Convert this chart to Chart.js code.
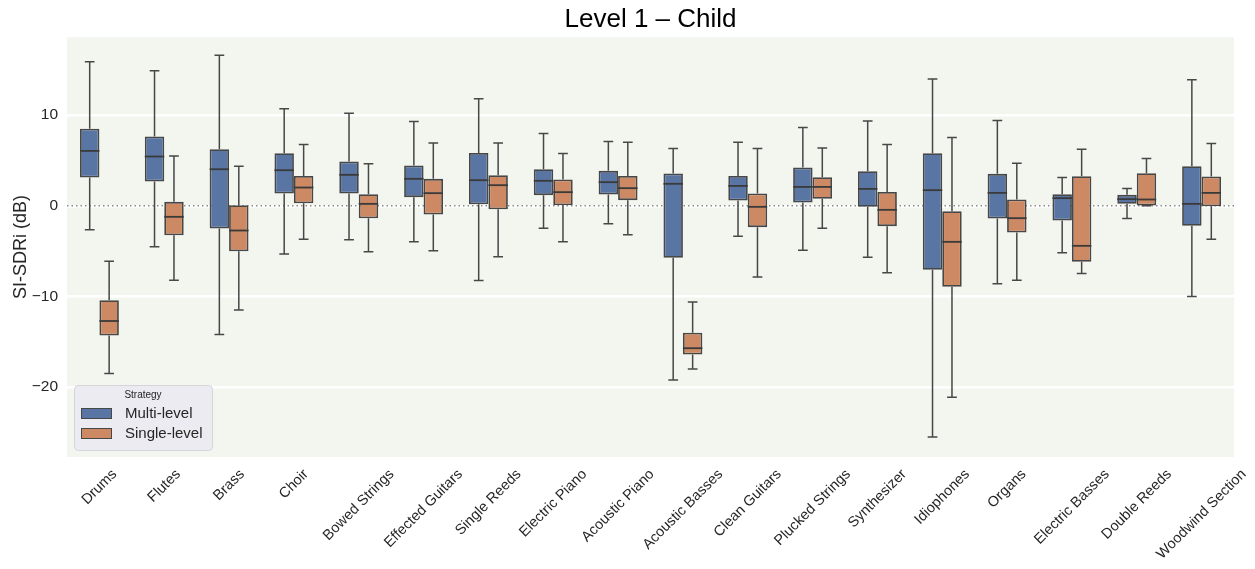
<!DOCTYPE html>
<html>
<head>
<meta charset="utf-8">
<title>Level 1 – Child</title>
<script src="https://cdn.jsdelivr.net/npm/chart.js@4.4.1/dist/chart.umd.min.js"></script>
<style>
    html, body { margin: 0; padding: 0; background: #ffffff; }
    #wrap { width: 1255px; height: 569px; }
</style>
</head>
<body>
<div id="wrap"><canvas id="boxChart" width="1255" height="569"></canvas></div>
<script>
/*
 * Data
 */
const categories = [
    "Drums", "Flutes", "Brass", "Choir", "Bowed Strings", "Effected Guitars",
    "Single Reeds", "Electric Piano", "Acoustic Piano", "Acoustic Basses",
    "Clean Guitars", "Plucked Strings", "Synthesizer", "Idiophones", "Organs",
    "Electric Basses", "Double Reeds", "Woodwind Section"
];

const seriesNames = ["Multi-level", "Single-level"];

// Multi-level: whisker low, Q1, median, Q3, whisker high
const multiLow  = [-2.65, -4.52, -14.2, -5.3, -3.75, -3.97, -8.23, -2.46, -1.98, -19.2, -3.34, -4.89, -5.66, -25.5, -8.6, -5.18, -1.4, -10.0];
const multiQ1   = [3.13, 2.68, -2.5, 1.36, 1.36, 0.96, 0.18, 1.18, 1.25, -5.73, 0.59, 0.37, -0.11, -7.06, -1.4, -1.62, 0.22, -2.2];
const multiMed  = [6.06, 5.44, 4.04, 3.93, 3.42, 2.98, 2.83, 2.76, 2.61, 2.43, 2.2, 2.09, 1.87, 1.73, 1.43, 0.85, 0.74, 0.22];
const multiQ3   = [8.5, 7.64, 6.25, 5.8, 4.89, 4.45, 5.84, 4.04, 3.86, 3.56, 3.3, 4.23, 3.82, 5.8, 3.53, 1.29, 1.21, 4.37];
const multiHigh = [15.9, 14.9, 16.6, 10.7, 10.2, 9.3, 11.8, 7.97, 7.09, 6.32, 7.02, 8.63, 9.37, 14.0, 9.41, 3.13, 1.91, 13.9];

// Single-level
const singleLow  = [-18.5, -8.2, -11.5, -3.68, -5.07, -4.96, -5.62, -3.97, -3.2, -18.0, -7.86, -2.46, -7.39, -21.1, -8.2, -7.46, 0.0, -3.68];
const singleQ1   = [-14.3, -3.24, -5.0, 0.29, -1.36, -0.96, -0.37, 0.07, 0.63, -16.4, -2.35, 0.77, -2.24, -8.93, -2.94, -6.17, 0.04, -0.04];
const singleMed  = [-12.7, -1.21, -2.72, 2.02, 0.22, 1.4, 2.28, 1.51, 1.95, -15.7, -0.11, 2.09, -0.44, -3.97, -1.36, -4.41, 0.7, 1.43];
const singleQ3   = [-10.4, 0.44, 0.07, 3.3, 1.29, 2.98, 3.38, 2.9, 3.3, -14.0, 1.36, 3.16, 1.54, -0.59, 0.7, 3.27, 3.6, 3.23];
const singleHigh = [-6.1, 5.5, 4.37, 6.76, 4.63, 6.94, 6.94, 5.77, 7.02, -10.6, 6.32, 6.39, 6.76, 7.53, 4.7, 6.25, 5.22, 6.87];

const yTicks = [-20, -10, 0, 10];

const boxColors = ["#5875a4", "#cc8963"];
const lineColor = "#474747";
const fontFamily = "'Liberation Sans', Arial, Helvetica, sans-serif";

// Boxes are floating bars from Q1 to Q3
function makeBoxes(q1, q3) {
    let boxes = [];
    for (let i = 0; i < q1.length; i++) {
        boxes.push([q1[i], q3[i]]);
    }
    return boxes;
}

const whiskerData = [
    {low: multiLow, med: multiMed, high: multiHigh, q1: multiQ1, q3: multiQ3},
    {low: singleLow, med: singleMed, high: singleHigh, q1: singleQ1, q3: singleQ3}
];

// Plot background, zero line and whiskers go under the boxes
const backgroundPlugin = {
    id: 'plotBackground',
    beforeDraw: (chart) => {
        const {ctx, chartArea} = chart;
        ctx.save();
        ctx.fillStyle = '#f3f6ef';
        ctx.fillRect(chartArea.left, chartArea.top, chartArea.right - chartArea.left, chartArea.bottom - chartArea.top);
        ctx.restore();
    },
    beforeDatasetsDraw: (chart) => {
        const {ctx, chartArea} = chart;
        const y = chart.scales.y;
        ctx.save();

        // dotted line at zero
        ctx.strokeStyle = '#8a8a8a';
        ctx.lineWidth = 1.5;
        ctx.setLineDash([1.5, 3]);
        ctx.beginPath();
        ctx.moveTo(chartArea.left, y.getPixelForValue(0));
        ctx.lineTo(chartArea.right, y.getPixelForValue(0));
        ctx.stroke();
        ctx.setLineDash([]);

        // whiskers and caps
        ctx.strokeStyle = lineColor;
        ctx.lineWidth = 1.5;
        for (let d = 0; d < whiskerData.length; d++) {
            const meta = chart.getDatasetMeta(d);
            const w = whiskerData[d];
            meta.data.forEach((bar, i) => {
                const capHalf = bar.width / 4;
                const pLow = y.getPixelForValue(w.low[i]);
                const pHigh = y.getPixelForValue(w.high[i]);
                ctx.beginPath();
                ctx.moveTo(bar.x, pLow);
                ctx.lineTo(bar.x, y.getPixelForValue(w.q1[i]));
                ctx.moveTo(bar.x, y.getPixelForValue(w.q3[i]));
                ctx.lineTo(bar.x, pHigh);
                ctx.moveTo(bar.x - capHalf, pLow);
                ctx.lineTo(bar.x + capHalf, pLow);
                ctx.moveTo(bar.x - capHalf, pHigh);
                ctx.lineTo(bar.x + capHalf, pHigh);
                ctx.stroke();
            });
        }
        ctx.restore();
    },
    afterDatasetsDraw: (chart) => {
        // medians on top of the boxes
        const {ctx} = chart;
        const y = chart.scales.y;
        ctx.save();
        ctx.strokeStyle = '#3a3a3a';
        ctx.lineWidth = 1.8;
        for (let d = 0; d < whiskerData.length; d++) {
            const meta = chart.getDatasetMeta(d);
            meta.data.forEach((bar, i) => {
                const p = y.getPixelForValue(whiskerData[d].med[i]);
                ctx.beginPath();
                ctx.moveTo(bar.x - bar.width / 2, p);
                ctx.lineTo(bar.x + bar.width / 2, p);
                ctx.stroke();
            });
        }
        ctx.restore();
    }
};

// Rotated category labels, centred on the tick like matplotlib
const xLabelPlugin = {
    id: 'xLabels',
    afterDraw: (chart) => {
        const {ctx, chartArea} = chart;
        const x = chart.scales.x;
        ctx.save();
        ctx.font = "14.5px " + fontFamily;
        ctx.fillStyle = '#262626';
        ctx.textAlign = 'center';
        ctx.textBaseline = 'middle';
        const h = 14;
        categories.forEach((label, i) => {
            const w = ctx.measureText(label).width;
            const half = (w + h) * Math.SQRT1_2 / 2;
            const cx = x.getPixelForValue(i);
            const cy = chartArea.bottom + 10 + half;
            ctx.save();
            ctx.translate(cx, cy);
            ctx.rotate(-Math.PI / 4);
            ctx.fillText(label, 0, 0);
            ctx.restore();
        });
        ctx.restore();
    }
};

// Legend box in the lower left corner of the plot
const legendPlugin = {
    id: 'strategyLegend',
    afterDraw: (chart) => {
        const {ctx, chartArea} = chart;
        const left = chartArea.left + 7;
        const top = chartArea.bottom - 72;
        ctx.save();
        ctx.fillStyle = 'rgba(234,234,240,0.95)';
        ctx.strokeStyle = '#d5d5d8';
        ctx.lineWidth = 1;
        ctx.beginPath();
        ctx.roundRect(left + 0.5, top + 0.5, 138, 65, 4);
        ctx.fill();
        ctx.stroke();

        ctx.fillStyle = '#262626';
        ctx.textBaseline = 'middle';
        ctx.textAlign = 'center';
        ctx.font = "10px " + fontFamily;
        ctx.fillText("Strategy", left + 69, top + 10);

        ctx.textAlign = 'left';
        ctx.font = "15px " + fontFamily;
        seriesNames.forEach((name, i) => {
            const py = top + 23 + i * 20;
            ctx.fillStyle = boxColors[i];
            ctx.fillRect(left + 7, py, 31, 11);
            ctx.strokeStyle = lineColor;
            ctx.lineWidth = 1;
            ctx.strokeRect(left + 7.5, py + 0.5, 30, 10);
            ctx.fillStyle = '#262626';
            ctx.fillText(name, left + 51, py + 6);
        });
        ctx.restore();
    }
};

function setupBoxChart() {
    const graphData = {
        labels: categories,
        datasets: [
            {
                label: seriesNames[0],
                data: makeBoxes(multiQ1, multiQ3),
                backgroundColor: boxColors[0],
                borderColor: lineColor,
                borderWidth: 1.8,
                borderSkipped: false
            },
            {
                label: seriesNames[1],
                data: makeBoxes(singleQ1, singleQ3),
                backgroundColor: boxColors[1],
                borderColor: lineColor,
                borderWidth: 1.8,
                borderSkipped: false
            }
        ]
    };

    const ctx = document.getElementById("boxChart");

    new Chart(ctx, {
        type: 'bar',
        data: graphData,
        options: {
            responsive: false,
            animation: false,
            layout: {
                padding: {left: 0, right: 21, top: 0, bottom: 0}
            },
            datasets: {
                bar: {categoryPercentage: 0.6, barPercentage: 1.0}
            },
            plugins: {
                legend: {display: false},
                tooltip: {enabled: false},
                title: {
                    display: true,
                    text: 'Level 1 – Child',
                    fullSize: false,
                    color: '#000000',
                    font: {family: fontFamily, size: 26, weight: 'normal'},
                    padding: {top: 4, bottom: 2}
                }
            },
            scales: {
                x: {
                    grid: {display: false},
                    border: {display: false},
                    ticks: {display: false},
                    afterFit: (scale) => { scale.height = 112; }
                },
                y: {
                    min: -27.7,
                    max: 18.6,
                    afterBuildTicks: (scale) => {
                        scale.ticks = yTicks.map(v => ({value: v}));
                    },
                    afterFit: (scale) => { scale.width = 67; },
                    grid: {color: '#ffffff', lineWidth: 2.5, drawTicks: false},
                    border: {display: false},
                    ticks: {
                        padding: 9,
                        color: '#262626',
                        font: {family: fontFamily, size: 15.5},
                        callback: (v) => v < 0 ? '\u2212' + Math.abs(v) : '' + v
                    },
                    title: {
                        display: true,
                        text: 'SI-SDRi (dB)',
                        color: '#262626',
                        font: {family: fontFamily, size: 18},
                        padding: {top: 10, bottom: 0}
                    }
                }
            }
        },
        plugins: [backgroundPlugin, xLabelPlugin, legendPlugin]
    });
}

setupBoxChart();
</script>
</body>
</html>
